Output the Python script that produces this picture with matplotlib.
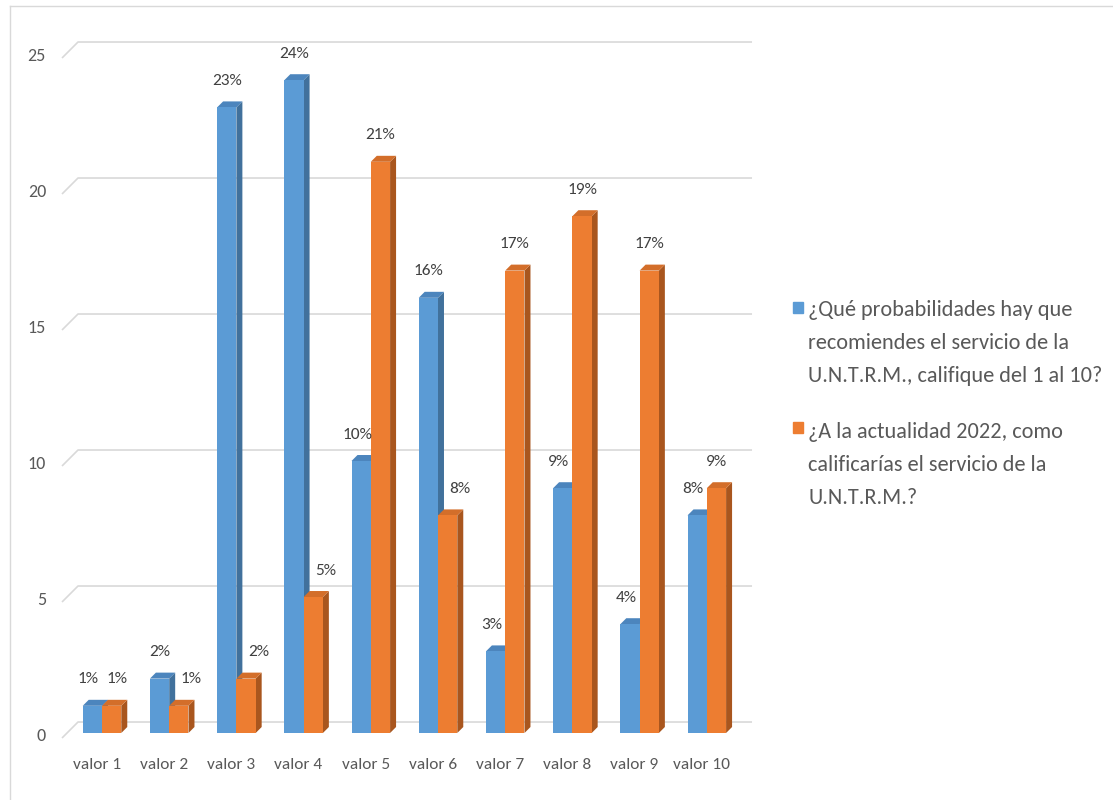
import matplotlib.pyplot as plt
from matplotlib.patches import Polygon, Rectangle
from matplotlib.lines import Line2D

categorias = ["valor 1", "valor 2", "valor 3", "valor 4", "valor 5",
              "valor 6", "valor 7", "valor 8", "valor 9", "valor 10"]
recomendacion = [1, 2, 23, 24, 10, 16, 3, 9, 4, 8]
actualidad = [1, 1, 2, 5, 21, 8, 17, 19, 17, 9]
serie_1 = "¿Qué probabilidades hay que\nrecomiendes el servicio de la\nU.N.T.R.M., califique del 1 al 10?"
serie_2 = "¿A la actualidad 2022, como\ncalificarías el servicio de la\nU.N.T.R.M.?"
yticks = [0, 5, 10, 15, 20, 25]

AZUL, AZUL_LADO, AZUL_TAPA = "#5B9BD5", "#41719C", "#4C85BD"
NARANJA, NARANJA_LADO, NARANJA_TAPA = "#ED7D31", "#A9561E", "#D36E2A"
GRIS_REJILLA = "#D9D9D9"
GRIS_TEXTO = "#595959"

plt.rcParams["font.family"] = ["Carlito", "Lato", "DejaVu Sans"]

W, H = 1113, 800
fig = plt.figure(figsize=(W / 100, H / 100), dpi=100)
ax = fig.add_axes([0, 0, 1, 1])
# one category step = 67.2 px, one unit = 27.2 px
ax.set_xlim(1 - 102 / 67.2, 1 + (W - 102) / 67.2)
ax.set_ylim((733 - H) / 27.2, 733 / 27.2)
ax.axis("off")

ancho = 0.287          # bar width per series
prof_x, prof_y = 0.089, 0.22   # 3d depth offset
x = list(range(1, len(categorias) + 1))

# floor/back-wall gridlines with perspective slant
for v in yticks:
    ax.plot([0.405, 0.643, 10.673], [v - 0.184, v + 0.404, v + 0.404],
            color=GRIS_REJILLA, lw=1.2, zorder=0, solid_capstyle="butt")
    ax.text(0.167, v - 0.1, str(v), ha="right", va="center",
            fontsize=13, color=GRIS_TEXTO)

for c, lab in zip(x, categorias):
    ax.text(c - 0.075, -1.18, lab, ha="center", va="center",
            fontsize=12.5, color=GRIS_TEXTO)


def barras_3d(izq, valores, frente, lado, tapa):
    ax.bar(izq, valores, width=ancho, align="edge", color=frente, zorder=2)
    for xi, v in zip(izq, valores):
        xd = xi + ancho
        ax.add_patch(Polygon([(xd, 0), (xd + prof_x, prof_y),
                              (xd + prof_x, v + prof_y), (xd, v)],
                             closed=True, color=lado, zorder=1, lw=0))
        ax.add_patch(Polygon([(xi, v), (xd, v), (xd + prof_x, v + prof_y),
                              (xi + prof_x, v + prof_y)],
                             closed=True, color=tapa, zorder=1, lw=0))


barras_3d([c - ancho for c in x], recomendacion, AZUL, AZUL_LADO, AZUL_TAPA)
barras_3d(x, actualidad, NARANJA, NARANJA_LADO, NARANJA_TAPA)

# value labels, nudged sideways when the neighbouring bar is taller
for c, a, b in zip(x, recomendacion, actualidad):
    da = -3 if a <= b else 0
    db = 9 if b < a else (4 if b == a else 0)
    ax.annotate(f"{a}%", xy=(c - ancho / 2, a), xytext=(da, 19),
                textcoords="offset points", ha="center", va="center",
                fontsize=12.5, color="#404040")
    ax.annotate(f"{b}%", xy=(c + ancho / 2, b), xytext=(db, 19),
                textcoords="offset points", ha="center", va="center",
                fontsize=12.5, color="#404040")

# legend
for y0, color, texto, yc in [(302, AZUL, serie_1, 343), (422, NARANJA, serie_2, 465)]:
    fig.patches.append(Rectangle((793 / W, 1 - (y0 + 11) / H), 10 / W, 11 / H,
                                 transform=fig.transFigure, color=color))
    fig.text(808 / W, 1 - yc / H, texto, ha="left", va="center",
             fontsize=16, color=GRIS_TEXTO, linespacing=1.83)

# chart frame edges
fig.lines.append(Line2D([10 / W, 10 / W], [0, 1 - 6 / H], transform=fig.transFigure,
                        color=GRIS_REJILLA, lw=1))
fig.lines.append(Line2D([10 / W, 1], [1 - 6 / H, 1 - 6 / H], transform=fig.transFigure,
                        color=GRIS_REJILLA, lw=1))

fig.savefig("out.png", dpi=100, facecolor="white")
